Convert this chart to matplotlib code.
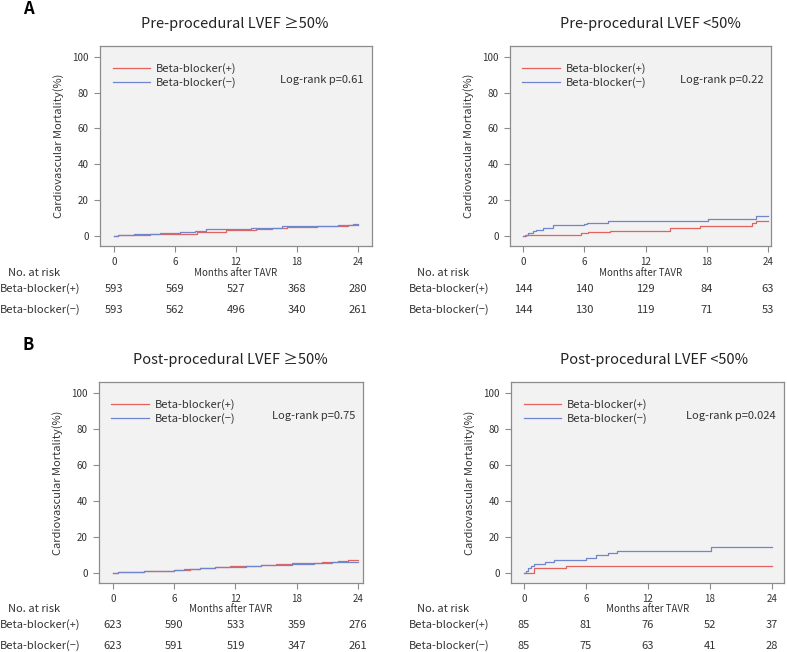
import matplotlib
matplotlib.use("Agg")
import matplotlib.pyplot as plt
import matplotlib.transforms as mtransforms

plt.rcParams['font.family'] = ['Noto Sans CJK JP', 'DejaVu Sans']

W, H = 787, 652

# ---- data ----
months = [0, 6, 12, 18, 24]
groups = ['Beta-blocker(+)', 'Beta-blocker(\u2212)']

titles = ['Pre-procedural LVEF \u226550%', 'Pre-procedural LVEF <50%',
          'Post-procedural LVEF \u226550%', 'Post-procedural LVEF <50%']
pvalues = ['Log-rank p=0.61', 'Log-rank p=0.22', 'Log-rank p=0.75', 'Log-rank p=0.024']

# Pre-procedural LVEF >=50%
pre_ge_pos_t = [0, 0.4, 1.2, 2.0, 3.5, 5.0, 6.5, 8.2, 9.5, 11.0, 12.5, 14.0, 15.5, 17.0, 18.5, 20.0, 21.5, 23.0, 24]
pre_ge_pos_y = [0, 0.2, 0.4, 0.6, 0.8, 1.0, 1.1, 1.9, 2.2, 3.0, 3.3, 3.8, 4.5, 4.8, 5.1, 5.4, 5.6, 6.0, 6.0]
pre_ge_neg_t = [0, 0.4, 1.2, 2.0, 3.0, 4.5, 5.5, 6.5, 8.0, 9.0, 11.0, 13.5, 15.0, 16.5, 18.5, 20.0, 22.0, 23.5, 24]
pre_ge_neg_y = [0, 0.3, 0.6, 0.8, 1.0, 1.3, 1.6, 2.1, 2.7, 3.6, 3.8, 4.3, 4.6, 5.4, 5.5, 5.7, 6.0, 6.6, 6.6]
pre_ge_risk_pos = [593, 569, 527, 368, 280]
pre_ge_risk_neg = [593, 562, 496, 340, 261]

# Pre-procedural LVEF <50%
pre_lt_pos_t = [0, 0.3, 5.7, 6.4, 8.5, 14.4, 17.3, 22.4, 22.8, 24]
pre_lt_pos_y = [0, 0.7, 1.4, 2.0, 2.8, 4.3, 5.6, 7.1, 8.4, 8.4]
pre_lt_neg_t = [0, 0.2, 0.5, 1.0, 1.3, 2.0, 2.9, 6.0, 6.3, 8.3, 9.0, 18.1, 22.8, 24]
pre_lt_neg_y = [0, 0.7, 1.4, 2.5, 3.5, 4.6, 6.0, 6.5, 7.0, 8.0, 8.5, 9.6, 11.2, 11.2]
pre_lt_risk_pos = [144, 140, 129, 84, 63]
pre_lt_risk_neg = [144, 130, 119, 71, 53]

# Post-procedural LVEF >=50%
post_ge_pos_t = [0, 0.5, 1.5, 3.0, 4.5, 6.0, 7.5, 8.5, 10.0, 11.5, 13.0, 14.5, 16.0, 17.5, 19.0, 20.5, 22.0, 23.0, 24]
post_ge_pos_y = [0, 0.3, 0.6, 0.9, 1.2, 1.6, 2.0, 2.6, 3.0, 3.5, 3.8, 4.3, 4.8, 5.2, 5.6, 6.0, 6.4, 6.9, 6.9]
post_ge_neg_t = [0, 0.5, 1.5, 3.0, 4.5, 6.0, 7.0, 8.5, 10.0, 11.5, 13.0, 14.5, 16.0, 17.5, 19.7, 20.5, 21.5, 23.0, 24]
post_ge_neg_y = [0, 0.3, 0.6, 0.9, 1.2, 1.8, 2.2, 2.6, 3.0, 3.4, 3.8, 4.2, 4.5, 4.6, 5.2, 5.6, 5.9, 6.1, 6.1]
post_ge_risk_pos = [623, 590, 533, 359, 276]
post_ge_risk_neg = [623, 591, 519, 347, 261]

# Post-procedural LVEF <50%
post_lt_pos_t = [0, 1.0, 4.1, 24]
post_lt_pos_y = [0, 2.4, 3.6, 3.6]
post_lt_neg_t = [0, 0.2, 0.4, 0.7, 1.0, 2.0, 2.9, 6.0, 7.0, 8.1, 9.0, 18.1, 24]
post_lt_neg_y = [0, 1.2, 2.4, 3.6, 4.8, 6.0, 7.2, 8.4, 9.6, 10.8, 12.0, 14.4, 14.4]
post_lt_risk_pos = [85, 81, 76, 52, 37]
post_lt_risk_neg = [85, 75, 63, 41, 28]

curves = [
    (pre_ge_pos_t, pre_ge_pos_y, pre_ge_neg_t, pre_ge_neg_y, pre_ge_risk_pos, pre_ge_risk_neg),
    (pre_lt_pos_t, pre_lt_pos_y, pre_lt_neg_t, pre_lt_neg_y, pre_lt_risk_pos, pre_lt_risk_neg),
    (post_ge_pos_t, post_ge_pos_y, post_ge_neg_t, post_ge_neg_y, post_ge_risk_pos, post_ge_risk_neg),
    (post_lt_pos_t, post_lt_pos_y, post_lt_neg_t, post_lt_neg_y, post_lt_risk_pos, post_lt_risk_neg),
]

# ---- layout (pixels) ----
# left, right, top, bottom of axes frame
frames = [(100, 372, 46, 246), (510, 771, 46, 246), (99, 363, 382, 583), (511, 784, 382, 583)]
xlims = [(-1.38, 25.38), (-1.27, 24.29), (-1.37, 24.49), (-1.26, 25.2)]
title_pos = [(235, 24), (650, 24), (230, 360), (654, 360)]
table_y = [(273, 289, 310), (273, 289, 310), (609, 625, 646), (609, 625, 646)]
label_x = [(0, 8), (409, 417), (0, 8), (409, 417)]

RED = '#e4625e'
BLUE = '#6f86cc'
TXT = '#333333'


def fx(px):
    return px / W


def fy(py):
    return 1 - py / H


fig = plt.figure(figsize=(W / 100, H / 100), dpi=100)

for i in range(4):
    l, r, t, b = frames[i]
    ax = fig.add_axes([fx(l), fy(b), fx(r) - fx(l), fy(t) - fy(b)])
    ax.set_facecolor('#f2f2f2')
    for s in ax.spines.values():
        s.set_color('#8c8c8c')
        s.set_linewidth(0.9)
    pt, py, nt, ny, rp, rn = curves[i]
    ax.step(pt, py, where='post', color=RED, lw=0.9, label=groups[0])
    ax.step(nt, ny, where='post', color=BLUE, lw=0.9, label=groups[1])
    ax.set_xlim(*xlims[i])
    ax.set_ylim(-5.7, 106)
    ax.set_xticks(months)
    ax.set_yticks([0, 20, 40, 60, 80, 100])
    ax.tick_params(labelsize=7, colors='#8c8c8c', labelcolor=TXT, length=4, width=0.8, pad=4)
    ax.set_ylabel('Cardiovascular Mortality(%)', fontsize=8, color=TXT, labelpad=6)
    ax.legend(loc='upper left', bbox_to_anchor=(0.03, 0.935), frameon=False, fontsize=8,
              handlelength=3.4, handletextpad=0.5, labelspacing=0.25, borderaxespad=0,
              labelcolor=TXT)
    ax.text(0.97, 0.83, pvalues[i], transform=ax.transAxes, ha='right', va='center',
            fontsize=8, color=TXT)

    # title and axis label
    tx, ty = title_pos[i]
    fig.text(fx(tx), fy(ty), titles[i], ha='center', va='center', fontsize=10.5, color='#222222')
    y0, y1, y2 = table_y[i]
    fig.text((fx(l) + fx(r)) / 2, fy(y0), 'Months after TAVR', ha='center', va='center',
             fontsize=7, color=TXT)

    # number at risk table
    lx, nx = label_x[i]
    fig.text(fx(nx), fy(y0), 'No. at risk', ha='left', va='center', fontsize=8, color=TXT)
    fig.text(fx(lx), fy(y1), groups[0], ha='left', va='center', fontsize=8, color=TXT)
    fig.text(fx(lx), fy(y2), groups[1], ha='left', va='center', fontsize=8, color=TXT)
    trans = mtransforms.blended_transform_factory(ax.transData, fig.transFigure)
    for m, a, c in zip(months, rp, rn):
        ax.text(m, fy(y1), str(a), transform=trans, ha='center', va='center',
                fontsize=8, color=TXT, clip_on=False)
        ax.text(m, fy(y2), str(c), transform=trans, ha='center', va='center',
                fontsize=8, color=TXT, clip_on=False)

fig.text(fx(23), fy(9), 'A', ha='left', va='center', fontsize=12, fontweight='bold')
fig.text(fx(23), fy(345), 'B', ha='left', va='center', fontsize=12, fontweight='bold')

fig.savefig('out.png', dpi=100)
